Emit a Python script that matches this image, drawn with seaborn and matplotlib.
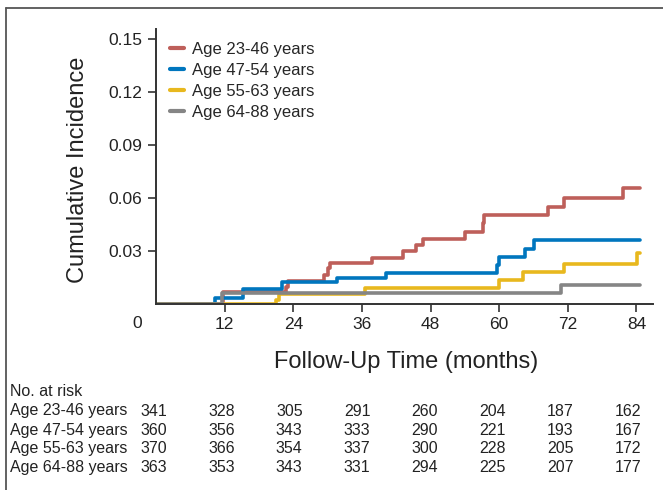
import seaborn as sns
import matplotlib.pyplot as plt
import pandas as pd
from matplotlib.lines import Line2D
from matplotlib.transforms import blended_transform_factory

# step curves (months, cumulative incidence)
groups = ['Age 23-46 years', 'Age 47-54 years', 'Age 55-63 years', 'Age 64-88 years']
colors = ['#BE5F5A', '#0076BE', '#E8B81E', '#858585']

t_2346 = [0, 11.8, 22.8, 23.1, 29.3, 30.1, 30.5, 37.8, 43.2, 45.5, 46.7, 54.0, 57.1, 57.4, 68.5, 71.4, 81.6, 84.6]
v_2346 = [0, 0.0064, 0.0095, 0.0129, 0.0162, 0.0200, 0.0228, 0.0257, 0.0300, 0.0332, 0.0366, 0.0408, 0.0455, 0.0502, 0.0549, 0.0597, 0.0654, 0.0654]
t_4754 = [0, 10.3, 15.2, 22.0, 31.6, 40.3, 59.7, 59.9, 64.5, 66.1, 84.6]
v_4754 = [0, 0.0030, 0.0082, 0.0122, 0.0145, 0.0175, 0.0219, 0.0266, 0.0311, 0.0359, 0.0359]
t_5563 = [0, 20.9, 21.5, 36.5, 60.0, 64.2, 71.4, 84.1, 84.6]
v_5563 = [0, 0.0020, 0.0052, 0.0090, 0.0133, 0.0180, 0.0224, 0.0285, 0.0285]
t_6488 = [0, 11.5, 70.8, 84.6]
v_6488 = [0, 0.0058, 0.0105, 0.0105]

risk_times = [0, 12, 24, 36, 48, 60, 72, 84]
risk_2346 = [341, 328, 305, 291, 260, 204, 187, 162]
risk_4754 = [360, 356, 343, 333, 290, 221, 193, 167]
risk_5563 = [370, 366, 354, 337, 300, 228, 205, 172]
risk_6488 = [363, 353, 343, 331, 294, 225, 207, 177]

x_ticks = [12, 24, 36, 48, 60, 72, 84]
y_ticks = [0.03, 0.06, 0.09, 0.12, 0.15]

frames = []
for g, t, v in zip(groups, [t_2346, t_4754, t_5563, t_6488], [v_2346, v_4754, v_5563, v_6488]):
    frames.append(pd.DataFrame({'time': t, 'inc': v, 'group': g}))
df = pd.concat(frames, ignore_index=True)

sns.set_style('ticks')
plt.rcParams['font.family'] = ['Liberation Sans', 'DejaVu Sans']
W, H = 663, 490
fx = lambda px: px / W
fy = lambda py: 1 - py / H

fig = plt.figure(figsize=(6.63, 4.90), dpi=100)
ax = fig.add_axes([fx(156), fy(303.5), fx(653) - fx(156), fy(29) - fy(303.5)])

sns.lineplot(data=df, x='time', y='inc', hue='group', hue_order=groups,
             palette=colors, drawstyle='steps-post', estimator=None, sort=False,
             linewidth=2.6, ax=ax)

ax.set_xlim(0, 86.9)
ax.set_ylim(0, 0.1558)
ax.set_xticks(x_ticks)
ax.set_yticks(y_ticks)
ax.set_yticklabels([f'{y:.2f}' for y in y_ticks])
ax.set_xlabel('')
ax.set_ylabel('')
sns.despine(ax=ax)
for s in ['left', 'bottom']:
    ax.spines[s].set_linewidth(1.4)
    ax.spines[s].set_color('#333333')
ax.tick_params(axis='both', direction='out', length=6, width=1.2, color='#333333',
               labelsize=12.5, labelcolor='#222222', pad=4)

leg = ax.legend(loc='upper left', bbox_to_anchor=(fx(170), fy(42)), bbox_transform=fig.transFigure,
                frameon=False, fontsize=12, handlelength=0.85, handletextpad=0.45,
                labelspacing=0.36, borderpad=0, borderaxespad=0)
for h in leg.get_lines():
    h.set_linewidth(3)

fig.text(fx(137.5), fy(323), '0', ha='center', va='center', fontsize=12.5, color='#222222')
fig.text(fx(78), fy(170), 'Cumulative Incidence', rotation=90, ha='center', va='center',
         fontsize=17, color='#222222')
fig.text(fx(406.5), fy(368), 'Follow-Up Time (months)', ha='center', va='baseline',
         fontsize=17, color='#222222')

# number at risk table
tr = blended_transform_factory(ax.transData, fig.transFigure)
fig.text(fx(10), fy(391), 'No. at risk', ha='left', va='center', fontsize=11.5, color='#222222')
rows = [risk_2346, risk_4754, risk_5563, risk_6488]
row_y = [411, 430, 448.5, 467]
for g, r, py in zip(groups, rows, row_y):
    fig.text(fx(10), fy(py), g, ha='left', va='center', fontsize=11.5, color='#222222')
    for t, n in zip(risk_times, r):
        ax.text(t - 0.4 - t * 0.012, fy(py), str(n), transform=tr, ha='center', va='center',
                fontsize=11.5, color='#222222', clip_on=False)

# frame lines around the figure
fig.add_artist(Line2D([fx(6), fx(6)], [fy(8), 0], transform=fig.transFigure, color='#555555', lw=1.3))
fig.add_artist(Line2D([fx(6), 1], [fy(8), fy(8)], transform=fig.transFigure, color='#555555', lw=1.3))

fig.savefig('out.png', dpi=100)
